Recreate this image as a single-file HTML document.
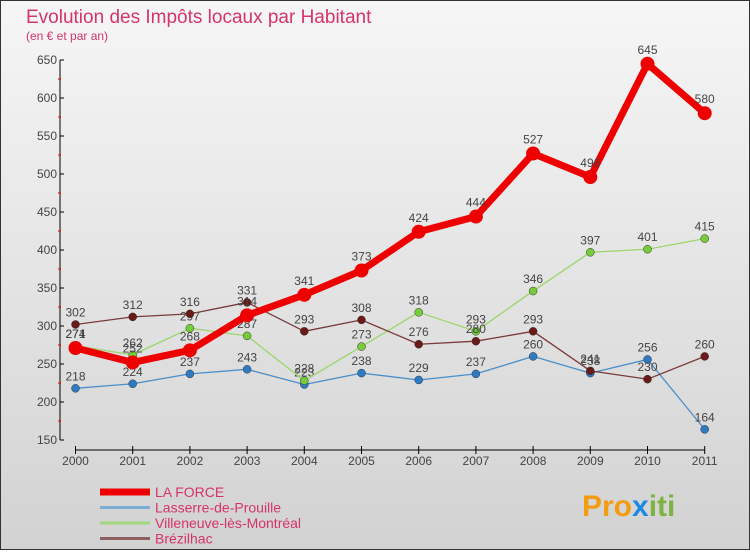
<!DOCTYPE html>
<html><head><meta charset="utf-8"><style>
body{margin:0;width:750px;height:550px;overflow:hidden;font-family:"Liberation Sans",sans-serif}
</style></head><body>
<svg width="750" height="550" xmlns="http://www.w3.org/2000/svg">
<defs><linearGradient id="bg" x1="0" y1="0" x2="0" y2="1"><stop offset="0" stop-color="#f6f6f6"/><stop offset="1" stop-color="#d2d2d2"/></linearGradient></defs>
<rect x="0.5" y="0.5" width="749" height="549" fill="url(#bg)" stroke="#333"/>
<text x="26" y="23" font-size="19" fill="#d6336c">Evolution des Impôts locaux par Habitant</text>
<text x="26" y="40" font-size="12" fill="#d6336c">(en € et par an)</text>
<g id="axes"></g><g id="series"></g><g id="legend"></g>
<text x="582" y="516" font-size="30" font-weight="bold" fill="#f39c12">Pro<tspan fill="#1e88e5">x</tspan><tspan fill="#7cb342">iti</tspan></text>
</svg>
<script>
const years=[2000,2001,2002,2003,2004,2005,2006,2007,2008,2009,2010,2011];
const yTicks=[150,200,250,300,350,400,450,500,550,600,650];
const laForce=[271,252,268,314,341,373,424,444,527,496,645,580];
const lasserre=[218,224,237,243,223,238,229,237,260,238,256,164];
const villeneuve=[274,262,297,287,228,273,318,293,346,397,401,415];
const brezilhac=[302,312,316,331,293,308,276,280,293,241,230,260];
const seriesNames=["LA FORCE","Lasserre-de-Prouille","Villeneuve-lès-Montréal","Brézilhac"];
const NS="http://www.w3.org/2000/svg";
const X=i=>75.5+i*57.2;
const Y=v=>440-(v-150)*0.76;
function mk(t,a,p){const e=document.createElementNS(NS,t);for(const k in a)e.setAttribute(k,a[k]);p.appendChild(e);return e;}
const ax=document.getElementById('axes');
let l=mk('line',{x1:60,y1:Y(650),x2:60,y2:440,stroke:'#000'},ax);


yTicks.forEach(v=>{
 mk('line',{x1:60,y1:Y(v),x2:64,y2:Y(v),stroke:'#000'},ax);
 if(v<650)mk('line',{x1:58,y1:Y(v+25),x2:61,y2:Y(v+25),stroke:'#e00'},ax);
 const t=mk('text',{x:57,y:Y(v)+4,'font-size':12,'text-anchor':'end',fill:'#444'},ax);t.textContent=v;
 
 
});
l=mk('line',{x1:X(0),y1:450,x2:X(11),y2:450,stroke:'#000'},ax);


years.forEach((y,i)=>{
 mk('line',{x1:X(i),y1:446,x2:X(i),y2:454,stroke:'#000'},ax);
 const t=mk('text',{x:X(i),y:465,'font-size':12,'text-anchor':'middle',fill:'#444'},ax);t.textContent=y;
 
 
});
const sg=document.getElementById('series');
const defs=[[lasserre,'#4a8fc9','#2e7bc4',1.3,4,'lasserre'],[villeneuve,'#9ad66a','#76cc3a',1.3,4,'villeneuve'],[brezilhac,'#7a3a3a','#6b1a1a',1.3,4,'brezilhac'],[laForce,'#ee0000','#ee0000',7,7,'la-force']];
defs.forEach(([d,lc,pc,w,r,n])=>{
 const p=mk('polyline',{points:d.map((v,i)=>X(i)+','+Y(v)).join(' '),fill:'none',stroke:lc,'stroke-width':w,'stroke-linejoin':'round'},sg);
 
 
 d.forEach((v,i)=>{
  const c=mk('circle',{cx:X(i),cy:Y(v),r:r,fill:pc,stroke:r>5?'none':'#333','stroke-width':0.5},sg);
  
  
  const t=mk('text',{x:X(i),y:Y(v)-(r>5?10:8),'font-size':12,'text-anchor':'middle',fill:'#444'},sg);t.textContent=v;
  
  
 });
});
const lg=document.getElementById('legend');
const lcols=['#ee0000','#7aaed6','#a3d67e','#8c6060'],lw=[7,3,3,3];
seriesNames.forEach((s,i)=>{
 const y=492+i*15.5;
 const ln=mk('line',{x1:100,y1:y,x2:150,y2:y,stroke:lcols[i],'stroke-width':lw[i]},lg);
 
 
 const t=mk('text',{x:155,y:y+5,'font-size':14,fill:'#d6336c'},lg);t.textContent=s;
 
 
});
</script>
</body></html>
